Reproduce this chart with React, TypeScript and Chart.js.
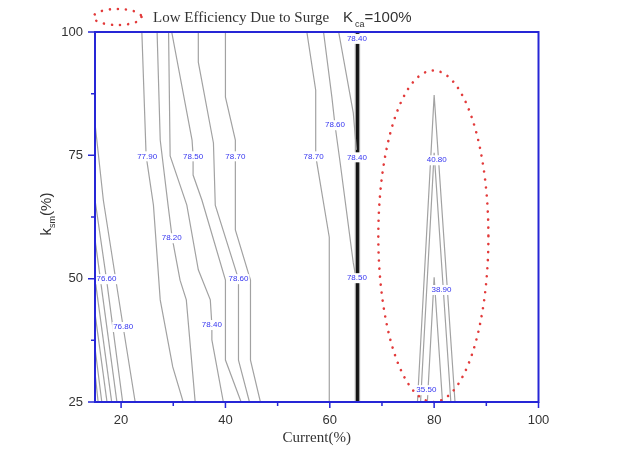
import React, { useEffect, useRef } from "react";
import { Chart, registerables } from "chart.js";

Chart.register(...registerables);

// Axis ranges and ticks
const X_MIN = 15;
const X_MAX = 100;
const Y_MIN = 25;
const Y_MAX = 100;
const X_MAJOR = [20, 40, 60, 80, 100];
const X_MINOR = [30, 50, 70, 90];
const Y_MAJOR = [25, 50, 75, 100];
const Y_MINOR = [37.5, 62.5, 87.5];

// Contour lines (x = Current %, y = k_sm %)
const CONTOUR_X: number[][] = [
  [15, 16.6, 20.4, 22.7],
  [15, 17.2, 20.3],
  [15, 19.2],
  [15, 18.2],
  [15, 17.3],
  [15, 16.3],
  [15, 15.6],
  [23.98, 24.8, 26.2, 27.5, 29.9, 31.9],
  [26.9, 27.5, 29.0, 29.8, 31.3, 32.5, 34.2],
  [29.1, 29.4, 32.6, 34.8, 37.1, 37.4, 37.4, 39.6],
  [29.7, 33.6, 33.8, 33.8, 35.5, 40.0, 40.0, 43.0],
  [34.8, 34.8, 37.7, 38.05, 42.5, 42.5, 44.6],
  [40.0, 40.0, 41.9, 41.9, 44.8, 44.8, 46.7],
  [55.6, 57.3, 57.3, 59.9, 59.9],
  [58.8, 60.4, 61.0, 62.0, 64.5, 65.1],
  [61.7, 64.5, 65.1],
  [64.9, 64.9],
  [65.7, 65.7],
  [76.8, 80.0, 84.0],
  [77.4, 80.0, 83.2],
  [78.7, 80.0, 81.6],
];
const CONTOUR_Y: number[][] = [
  [81.5, 65.9, 40.2, 25],
  [66, 49.9, 25],
  [58, 25],
  [50, 25],
  [43, 25],
  [36, 25],
  [31, 25],
  [100, 74.9, 64.9, 45.7, 32.1, 25],
  [100, 78.1, 64.9, 58.2, 49.7, 45.7, 25],
  [100, 74.9, 64.9, 51.8, 45.7, 40.6, 37.6, 25],
  [100, 78.1, 74.9, 71.0, 65.9, 49.7, 33.5, 25],
  [100, 93.9, 77.5, 64.9, 49.9, 33.5, 25],
  [100, 86.8, 78.1, 59.9, 49.7, 33.5, 25],
  [100, 88.2, 74.9, 58.4, 25],
  [100, 86.8, 81.1, 73.4, 53.2, 49.7],
  [100, 83.6, 76.1],
  [25, 100],
  [25, 100],
  [25, 87.2, 25],
  [25, 75.5, 25],
  [25, 50.3, 25],
];

// Thick dark contour cluster
const THICK_X = [65.3, 65.3];
const THICK_Y = [25, 100];

// Contour labels
const LABEL_TEXT = [
  "77.90", "78.50", "78.70", "78.20", "76.60", "78.60", "76.80", "78.40",
  "78.70", "78.60", "78.40", "78.40", "78.50", "40.80", "38.90", "35.50",
];
const LABEL_X = [25.0, 33.8, 41.9, 29.7, 17.2, 42.5, 20.4, 37.4, 56.9, 61.0, 65.2, 65.2, 65.2, 80.5, 81.4, 78.5];
const LABEL_Y = [74.8, 74.8, 74.8, 58.2, 49.9, 49.9, 40.2, 40.6, 74.8, 81.1, 74.6, 98.6, 50.1, 74.0, 47.7, 27.4];

// Surge region ellipse (data units)
const ELLIPSE_CX = 79.85;
const ELLIPSE_CY = 58.6;
const ELLIPSE_RX = 10.55;
const ELLIPSE_RY = 33.6;

const LEGEND_TEXT = "Low Efficiency Due to Surge";
const X_TITLE = "Current(%)";

const BLUE = "#2626d6";
const RED = "#e23a3a";

const overlayPlugin = {
  id: "overlay",
  afterDatasetsDraw(chart: any) {
    const ctx = chart.ctx as CanvasRenderingContext2D;
    const xs = chart.scales.x;
    const ys = chart.scales.y;
    const area = chart.chartArea;

    // contour labels
    ctx.save();
    ctx.font = '8px "Liberation Sans", Arial, sans-serif';
    ctx.textAlign = "center";
    ctx.textBaseline = "middle";
    LABEL_TEXT.forEach((t, i) => {
      const px = xs.getPixelForValue(LABEL_X[i]);
      const py = ys.getPixelForValue(LABEL_Y[i]);
      const w = ctx.measureText(t).width;
      ctx.fillStyle = "#ffffff";
      ctx.fillRect(px - w / 2 - 1, py - 5, w + 2, 10);
      ctx.fillStyle = "#3535f0";
      ctx.fillText(t, px, py);
    });
    ctx.restore();

    // ellipse
    ctx.save();
    const ecx = xs.getPixelForValue(ELLIPSE_CX);
    const ecy = ys.getPixelForValue(ELLIPSE_CY);
    const erx = Math.abs(xs.getPixelForValue(ELLIPSE_CX + ELLIPSE_RX) - ecx);
    const ery = Math.abs(ys.getPixelForValue(ELLIPSE_CY + ELLIPSE_RY) - ecy);
    ctx.strokeStyle = RED;
    ctx.lineWidth = 2.6;
    ctx.lineCap = "round";
    ctx.setLineDash([0.01, 8]);
    ctx.beginPath();
    ctx.ellipse(ecx, ecy, erx, ery, 0, 0, Math.PI * 2);
    ctx.stroke();
    ctx.restore();

    // frame
    ctx.save();
    ctx.strokeStyle = BLUE;
    ctx.lineWidth = 2;
    ctx.strokeRect(area.left, area.top, area.right - area.left, area.bottom - area.top);
    // ticks
    ctx.lineWidth = 1.5;
    ctx.beginPath();
    X_MAJOR.forEach((v) => {
      const p = xs.getPixelForValue(v);
      ctx.moveTo(p, area.bottom);
      ctx.lineTo(p, area.bottom + 6);
    });
    X_MINOR.forEach((v) => {
      const p = xs.getPixelForValue(v);
      ctx.moveTo(p, area.bottom - 1);
      ctx.lineTo(p, area.bottom + 4);
    });
    Y_MAJOR.forEach((v) => {
      const p = ys.getPixelForValue(v);
      ctx.moveTo(area.left, p);
      ctx.lineTo(area.left - 7, p);
    });
    Y_MINOR.forEach((v) => {
      const p = ys.getPixelForValue(v);
      ctx.moveTo(area.left + 1, p);
      ctx.lineTo(area.left - 4, p);
    });
    ctx.stroke();
    ctx.restore();

    // x title
    ctx.save();
    ctx.fillStyle = "#333";
    ctx.font = '15px "Liberation Serif", "Times New Roman", serif';
    ctx.textAlign = "center";
    ctx.textBaseline = "alphabetic";
    ctx.fillText(X_TITLE, (area.left + area.right) / 2, 442);
    ctx.restore();

    // y title: k_sm(%)
    ctx.save();
    ctx.fillStyle = "#333";
    ctx.translate(51, (area.top + area.bottom) / 2 - 3);
    ctx.rotate(-Math.PI / 2);
    const big = '15px "Liberation Sans", Arial, sans-serif';
    const small = '9px "Liberation Sans", Arial, sans-serif';
    ctx.font = big;
    const wk = ctx.measureText("k").width;
    const wp = ctx.measureText("(%)").width;
    ctx.font = small;
    const ws = ctx.measureText("sm").width;
    const total = wk + ws + wp;
    let x0 = -total / 2;
    ctx.textBaseline = "alphabetic";
    ctx.textAlign = "left";
    ctx.font = big;
    ctx.fillText("k", x0, 0);
    x0 += wk;
    ctx.font = small;
    ctx.fillText("sm", x0, 4);
    x0 += ws;
    ctx.font = big;
    ctx.fillText("(%)", x0, 0);
    ctx.restore();

    // legend
    ctx.save();
    ctx.strokeStyle = RED;
    ctx.lineWidth = 2.6;
    ctx.lineCap = "round";
    ctx.setLineDash([0.01, 8]);
    ctx.beginPath();
    ctx.ellipse(117.5, 17, 24, 8, 0, 0, Math.PI * 2);
    ctx.stroke();
    ctx.setLineDash([]);
    ctx.fillStyle = "#333";
    ctx.textBaseline = "alphabetic";
    ctx.textAlign = "left";
    ctx.font = '15px "Liberation Serif", "Times New Roman", serif';
    ctx.fillText(LEGEND_TEXT, 153, 22);
    ctx.font = '15px "Liberation Sans", Arial, sans-serif';
    ctx.fillText("K", 343, 22);
    const kw = ctx.measureText("K").width;
    ctx.font = '9px "Liberation Sans", Arial, sans-serif';
    ctx.fillText("ca", 343 + kw + 2, 27);
    const cw = ctx.measureText("ca").width;
    ctx.font = '15px "Liberation Sans", Arial, sans-serif';
    ctx.fillText("=100%", 343 + kw + 2 + cw, 22);
    ctx.restore();
  },
};

export default function App() {
  const ref = useRef<HTMLCanvasElement | null>(null);

  useEffect(() => {
    if (!ref.current) return;
    const datasets: any[] = CONTOUR_X.map((xsArr, i) => ({
      data: xsArr.map((x, j) => ({ x, y: CONTOUR_Y[i][j] })),
      showLine: true,
      borderColor: "#a2a2a2",
      borderWidth: 1.2,
      pointRadius: 0,
      fill: false,
      tension: 0,
    }));
    datasets.push({
      data: THICK_X.map((x, j) => ({ x, y: THICK_Y[j] })),
      showLine: true,
      borderColor: "#151515",
      borderWidth: 3.5,
      pointRadius: 0,
      fill: false,
    });

    const chart = new Chart(ref.current, {
      type: "scatter",
      data: { datasets },
      options: {
        animation: false,
        responsive: false,
        maintainAspectRatio: false,
        layout: { padding: { left: 0, top: 32, right: 102.5, bottom: 0 } },
        plugins: { legend: { display: false }, tooltip: { enabled: false } },
        scales: {
          x: {
            type: "linear",
            min: X_MIN,
            max: X_MAX,
            afterBuildTicks: (s: any) => {
              s.ticks = X_MAJOR.map((v) => ({ value: v }));
            },
            afterFit: (s: any) => {
              s.height = 53;
            },
            grid: { display: false, drawTicks: false },
            border: { display: false },
            ticks: {
              padding: 11,
              color: "#333",
              font: { family: '"Liberation Sans", Arial, sans-serif', size: 13 },
              maxRotation: 0,
            },
          },
          y: {
            type: "linear",
            min: Y_MIN,
            max: Y_MAX,
            afterBuildTicks: (s: any) => {
              s.ticks = Y_MAJOR.map((v) => ({ value: v }));
            },
            afterFit: (s: any) => {
              s.width = 95;
            },
            grid: { display: false, drawTicks: false },
            border: { display: false },
            ticks: {
              padding: 12,
              color: "#333",
              font: { family: '"Liberation Sans", Arial, sans-serif', size: 13 },
            },
          },
        },
      },
      plugins: [overlayPlugin],
    });
    return () => chart.destroy();
  }, []);

  return (
    <div style={{ position: "absolute", left: 0, top: 0, width: 641, height: 455, background: "#fff" }}>
      <canvas ref={ref} width={641} height={455} style={{ display: "block" }} />
    </div>
  );
}
